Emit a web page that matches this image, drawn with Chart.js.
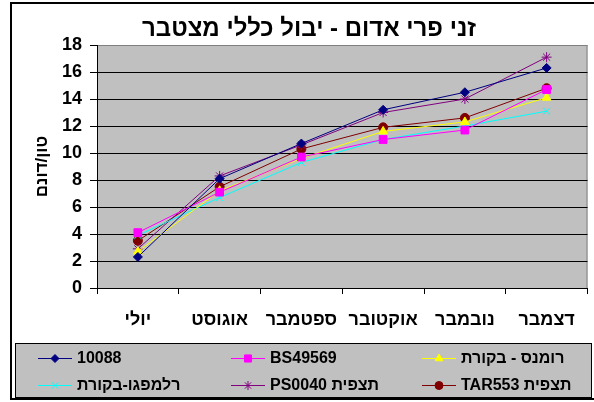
<!DOCTYPE html>
<html>
<head>
<meta charset="utf-8">
<script src="https://cdn.jsdelivr.net/npm/chart.js@4"></script>
<style>
  html, body { margin: 0; padding: 0; background: #fff; }
  canvas { display: block; }
</style>
</head>
<body>
<canvas id="yieldChart" width="594" height="402"></canvas>
<script>
let months = ["יולי", "אוגוסט", "ספטמבר", "אוקטובר", "נובמבר", "דצמבר"];
let names = ["10088", "BS49569", "רומנס - בקורת", "רלמפגו-בקורת", "תצפית PS0040", "תצפית TAR553"];
let v10088 = [2.3, 8.1, 10.7, 13.2, 14.5, 16.3];
let vBS49569 = [4.1, 7.1, 9.7, 11.0, 11.7, 14.7];
let vRomance = [2.7, 7.2, 9.6, 11.6, 12.3, 14.1];
let vRelampago = [3.9, 6.7, 9.3, 11.0, 12.0, 13.1];
let vPS0040 = [2.9, 8.3, 10.6, 13.0, 14.0, 17.1];
let vTAR553 = [3.5, 7.5, 10.3, 11.9, 12.6, 14.8];
let yMax = 18;
let yStep = 2;

let titleText = "זני פרי אדום - יבול כללי מצטבר";
let yTitle = "טון/דונם";

let font = "'Liberation Sans', Arial, sans-serif";

function series(i, data, color, style, radius) {
    return {
        label: names[i],
        data: data,
        borderColor: color,
        backgroundColor: color,
        pointBackgroundColor: color,
        pointBorderColor: color,
        pointStyle: style,
        pointRadius: radius,
        pointBorderWidth: 1,
        borderWidth: 1,
        tension: 0,
        fill: false
    };
}

// plot background, outer frame, title
const frame = {
    id: "frame",
    beforeDraw(chart) {
        const ctx = chart.ctx, a = chart.chartArea;
        ctx.save();
        ctx.fillStyle = "#fff";
        ctx.fillRect(0, 0, chart.width, chart.height);
        ctx.strokeStyle = "#000";
        ctx.lineWidth = 2;
        ctx.strokeRect(11, 3, 600, 396);
        ctx.fillStyle = "#c0c0c0";
        ctx.fillRect(a.left, a.top, a.right - a.left, a.bottom - a.top);
        ctx.strokeStyle = "#808080";
        ctx.lineWidth = 1;
        ctx.strokeRect(a.left + 0.5, a.top + 0.5, a.right - a.left - 1, a.bottom - a.top);
        ctx.fillStyle = "#000";
        ctx.font = "bold 24px " + font;
        ctx.direction = "rtl";
        ctx.textAlign = "center";
        ctx.textBaseline = "alphabetic";
        ctx.fillText(titleText, 309, 36);
        ctx.restore();
    }
};

// legend box like excel: line with marker
const boxLegend = {
    id: "boxLegend",
    afterDraw(chart) {
        const ctx = chart.ctx;
        const cols = [38, 231, 422];
        const rows = [358, 385];
        ctx.save();
        ctx.fillStyle = "#c0c0c0";
        ctx.fillRect(15, 343, 576, 54);
        ctx.strokeStyle = "#000";
        ctx.lineWidth = 1;
        ctx.strokeRect(15.5, 343.5, 576, 54);
        chart.data.datasets.forEach((ds, i) => {
            let x = cols[i % 3];
            let y = rows[Math.floor(i / 3)];
            ctx.strokeStyle = ds.borderColor;
            ctx.lineWidth = 1;
            ctx.beginPath();
            ctx.moveTo(x, y + 0.5);
            ctx.lineTo(x + 34, y + 0.5);
            ctx.stroke();
            ctx.fillStyle = ds.pointBackgroundColor;
            Chart.helpers.drawPoint(ctx, {
                pointStyle: ds.pointStyle,
                radius: ds.pointRadius - 0.5,
                rotation: 0,
                borderWidth: 1
            }, x + 17, y + 0.5);
            ctx.fillStyle = "#000";
            ctx.font = "bold 16px " + font;
            ctx.direction = "rtl";
            ctx.textAlign = "left";
            ctx.textBaseline = "middle";
            ctx.fillText(ds.label, x + 39, y + 1);
        });
        ctx.restore();
    }
};

new Chart(document.getElementById("yieldChart"), {
    type: "line",
    data: {
        labels: months,
        datasets: [
            series(0, v10088, "#000080", "rectRot", 4.5),
            series(1, vBS49569, "#ff00ff", "rect", 5.5),
            series(2, vRomance, "#ffff00", "triangle", 5),
            series(3, vRelampago, "#00ffff", "crossRot", 5),
            series(4, vPS0040, "#800080", "star", 5),
            series(5, vTAR553, "#800000", "circle", 4.5)
        ]
    },
    options: {
        responsive: false,
        devicePixelRatio: 1,
        animation: false,
        layout: { padding: { left: 0, right: 2, top: 45, bottom: 0 } },
        plugins: {
            legend: { display: false },
            tooltip: { enabled: false },
            title: { display: false }
        },
        scales: {
            x: {
                offset: true,
                grid: {
                    offset: true,
                    drawOnChartArea: false,
                    drawTicks: true,
                    tickLength: 6,
                    color: "#000"
                },
                border: { color: "#000", width: 1 },
                ticks: {
                    color: "#000",
                    padding: 15,
                    maxRotation: 0,
                    font: { family: font, size: 18, weight: "bold" }
                },
                afterFit(scale) { scale.height = 114; }
            },
            y: {
                min: 0,
                max: yMax,
                grid: {
                    color: (c) => c.tick && c.tick.value === yMax ? "#808080" : "#000",
                    tickColor: "#000",
                    tickLength: 7
                },
                border: { color: "#000", width: 1 },
                ticks: {
                    stepSize: yStep,
                    color: "#000",
                    padding: 8,
                    font: { family: font, size: 18, weight: "bold" }
                },
                title: {
                    display: true,
                    text: yTitle,
                    color: "#000",
                    font: { family: font, size: 17, weight: "bold" },
                    padding: { top: 32, bottom: 0 }
                },
                afterFit(scale) { scale.width = 97; }
            }
        }
    },
    plugins: [frame, boxLegend]
});
</script>
</body>
</html>
